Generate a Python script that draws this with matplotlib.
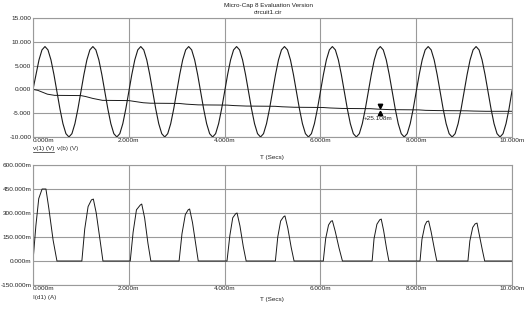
import numpy as np
import matplotlib
matplotlib.use("Agg")
import matplotlib.pyplot as plt
from matplotlib.transforms import offset_copy
from matplotlib.lines import Line2D

plt.rcParams['font.family'] = ['Liberation Sans', 'DejaVu Sans']

# ---------------- data ----------------
title_lines = ["Micro-Cap 8 Evaluation Version", "circuit1.cir"]
x_ticks = [0, 2, 4, 6, 8, 10]
x_ticklabels = ["0.000m", "2.000m", "4.000m", "6.000m", "8.000m", "10.000m"]
top_yticks = [-10, -5, 0, 5, 10, 15]
top_yticklabels = ["-10.000", "-5.000", "0.000", "5.000", "10.000", "15.000"]
bot_yticks = [-150, 0, 150, 300, 450, 600]
bot_yticklabels = ["-150.000m", "0.000m", "150.000m", "300.000m", "450.000m", "600.000m"]
xlabel = "T (Secs)"
top_legend = ["v(1) (V)", "v(b) (V)"]
bot_legend = ["I(d1) (A)"]

# v(1): sampled every 0.0625 ms (time in ms)
t_v1 = np.arange(161) * 0.0625
v1 = [
    0.0, 3.1, 6.2, 8.3, 9.0, 8.3, 6.2, 3.1, -0.5, -4.1, -7.2, -9.3, -10.0, -9.3, -7.2, -4.1,
    -0.5, 3.1, 6.2, 8.3, 9.0, 8.3, 6.2, 3.1, -0.5, -4.1, -7.2, -9.3, -10.0, -9.3, -7.2, -4.1,
    -0.5, 3.1, 6.2, 8.3, 9.0, 8.3, 6.2, 3.1, -0.5, -4.1, -7.2, -9.3, -10.0, -9.3, -7.2, -4.1,
    -0.5, 3.1, 6.2, 8.3, 9.0, 8.3, 6.2, 3.1, -0.5, -4.1, -7.2, -9.3, -10.0, -9.3, -7.2, -4.1,
    -0.5, 3.1, 6.2, 8.3, 9.0, 8.3, 6.2, 3.1, -0.5, -4.1, -7.2, -9.3, -10.0, -9.3, -7.2, -4.1,
    -0.5, 3.1, 6.2, 8.3, 9.0, 8.3, 6.2, 3.1, -0.5, -4.1, -7.2, -9.3, -10.0, -9.3, -7.2, -4.1,
    -0.5, 3.1, 6.2, 8.3, 9.0, 8.3, 6.2, 3.1, -0.5, -4.1, -7.2, -9.3, -10.0, -9.3, -7.2, -4.1,
    -0.5, 3.1, 6.2, 8.3, 9.0, 8.3, 6.2, 3.1, -0.5, -4.1, -7.2, -9.3, -10.0, -9.3, -7.2, -4.1,
    -0.5, 3.1, 6.2, 8.3, 9.0, 8.3, 6.2, 3.1, -0.5, -4.1, -7.2, -9.3, -10.0, -9.3, -7.2, -4.1,
    -0.5, 3.1, 6.2, 8.3, 9.0, 8.3, 6.2, 3.1, -0.5, -4.1, -7.2, -9.3, -10.0, -9.3, -7.2, -4.1,
    -0.3,
]

# v(b): breakpoints (ms, V)
t_vb = [0, 0.1, 0.2, 0.3, 0.45, 1.0, 1.1, 1.25, 1.45, 2.0, 2.1, 2.3, 2.45,
        3.05, 3.2, 3.45, 4.05, 4.2, 4.45, 5.05, 5.2, 5.45, 6.05, 6.2, 6.45,
        7.05, 7.2, 7.45, 8.05, 8.2, 8.45, 9.05, 9.2, 9.45, 10.0]
vb = [0.0, -0.2, -0.6, -1.0, -1.25, -1.3, -1.5, -1.9, -2.3, -2.35, -2.5, -2.8, -2.9,
      -2.95, -3.1, -3.25, -3.3, -3.4, -3.5, -3.55, -3.65, -3.75, -3.8, -3.9, -4.0,
      -4.05, -4.15, -4.25, -4.3, -4.4, -4.45, -4.5, -4.55, -4.6, -4.6]

# I(d1): breakpoints (ms, mA)
t_id = [0, 0.06, 0.12, 0.19, 0.27, 0.33, 0.42, 0.5,
        1.02, 1.08, 1.15, 1.22, 1.26, 1.32, 1.40, 1.46,
        2.03, 2.09, 2.16, 2.24, 2.27, 2.33, 2.40, 2.46,
        3.05, 3.11, 3.18, 3.24, 3.27, 3.33, 3.40, 3.45,
        4.05, 4.11, 4.17, 4.23, 4.26, 4.32, 4.39, 4.45,
        5.06, 5.11, 5.17, 5.23, 5.26, 5.32, 5.39, 5.45,
        6.06, 6.11, 6.17, 6.22, 6.25, 6.31, 6.39, 6.46,
        7.08, 7.12, 7.18, 7.24, 7.27, 7.32, 7.38, 7.43,
        8.08, 8.12, 8.18, 8.22, 8.26, 8.31, 8.38, 8.43,
        9.08, 9.12, 9.18, 9.23, 9.27, 9.31, 9.38, 9.43,
        10.0]
i_d1 = [0, 220, 390, 450, 450, 330, 130, 0,
        0, 200, 340, 382, 387, 300, 130, 0,
        0, 180, 320, 350, 356, 270, 110, 0,
        0, 170, 290, 320, 325, 240, 100, 0,
        0, 160, 270, 295, 300, 220, 90, 0,
        0, 150, 250, 276, 282, 205, 85, 0,
        0, 140, 225, 248, 252, 185, 80, 0,
        0, 140, 230, 258, 262, 190, 80, 0,
        0, 135, 222, 246, 250, 185, 75, 0,
        0, 125, 210, 232, 237, 175, 70, 0,
        0]

marker_t = 7.25
marker_v = -4.3
marker_text = "+25.108m"

# ---------------- figure ----------------
W, H = 532, 309
fig = plt.figure(figsize=(W / 100, H / 100), dpi=100)
fig.patch.set_facecolor("white")

def fx(px):
    return px / W

def fy(py):
    return 1 - py / H

grid_c = "#9a9a9a"
line_c = "#1a1a1a"
fs = 4.6

ax1 = fig.add_axes([fx(33), fy(137), fx(512) - fx(33), fy(18) - fy(137)])
ax2 = fig.add_axes([fx(33), fy(285), fx(512) - fx(33), fy(165) - fy(285)])

for ax in (ax1, ax2):
    ax.set_xlim(0, 10)
    ax.set_xticks(x_ticks)
    ax.set_xticklabels(x_ticklabels, fontsize=fs)
    ax.grid(True, color=grid_c, linewidth=0.8)
    ax.set_axisbelow(True)
    ax.tick_params(length=0, pad=1.2, labelsize=fs, colors="#222222")
    ax.tick_params(axis="x", pad=0.8)
    for s in ax.spines.values():
        s.set_color(grid_c)
        s.set_linewidth(0.8)
    lbls = ax.get_xticklabels()
    lbls[0].set_ha("left")

ax1.set_ylim(-10, 15)
ax1.set_yticks(top_yticks)
ax1.set_yticklabels(top_yticklabels, fontsize=fs)
ax2.set_ylim(-150, 600)
ax2.set_yticks(bot_yticks)
ax2.set_yticklabels(bot_yticklabels, fontsize=fs)

ax1.plot(t_v1, v1, color=line_c, linewidth=0.8)
ax1.plot(t_vb, vb, color=line_c, linewidth=0.7)
ax2.plot(t_id, i_d1, color=line_c, linewidth=0.7)

# vertical tag marker
tr_up = offset_copy(ax1.transData, fig=fig, x=0, y=2.6, units="points")
tr_dn = offset_copy(ax1.transData, fig=fig, x=0, y=-2.6, units="points")
tr_tx = offset_copy(ax1.transData, fig=fig, x=-1.5, y=-6.5, units="points")
ax1.plot([marker_t], [marker_v], marker="v", markersize=3.2, color="black", transform=tr_up, linestyle="none")
ax1.plot([marker_t], [marker_v], marker="^", markersize=3.2, color="black", transform=tr_dn, linestyle="none")
ax1.text(marker_t, marker_v, marker_text, transform=tr_tx, fontsize=fs, ha="center", va="center", color="#222222")

# titles
fig.text(fx(268), fy(6), title_lines[0], fontsize=fs, ha="center", va="center", color="#222222")
fig.text(fx(268), fy(13), title_lines[1], fontsize=fs, ha="center", va="center", color="#222222")

# x labels
fig.text(fx(272), fy(157), xlabel, fontsize=fs, ha="center", va="center", color="#222222")
fig.text(fx(272), fy(299), xlabel, fontsize=fs, ha="center", va="center", color="#222222")

# legends
lt1 = fig.text(fx(33), fy(149), top_legend[0], fontsize=fs, ha="left", va="center", color="#222222")
fig.text(fx(57), fy(149), top_legend[1], fontsize=fs, ha="left", va="center", color="#333333")
fig.text(fx(33), fy(297), bot_legend[0], fontsize=fs, ha="left", va="center", color="#333333")

fig.canvas.draw()
bb = lt1.get_window_extent()
ul_y = (bb.y0 - 0.5) / H
fig.add_artist(Line2D([bb.x0 / W, bb.x1 / W], [ul_y, ul_y], color="#222222", linewidth=0.5))

fig.savefig("out.png", dpi=100)
